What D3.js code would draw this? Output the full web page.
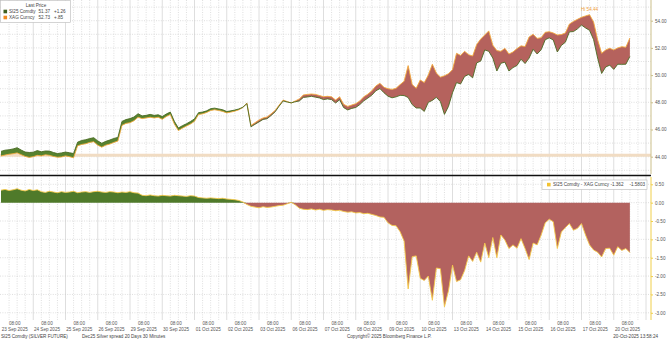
<!DOCTYPE html>
<html lang="en">
<head>
<meta charset="UTF-8">
<title>SI25 Comdty vs XAG Curncy</title>
<script src="https://d3js.org/d3.v7.min.js"></script>
<style>
    body { margin: 0; background: #fff; }
    svg text { font-family: "Liberation Sans", Arial, sans-serif; font-size: 4.6px; fill: #444; }
    .grid-dot { stroke: #c9c9c9; stroke-width: 0.6px; stroke-dasharray: 1, 1.4; }
    .grid-solid { stroke: #d6d6d6; stroke-width: 0.8px; }
    .axis-top path, .axis-top line { stroke: #cbbf8a; }
    .axis-bot path, .axis-bot line { stroke: #f0cf4a; }
    .xaxis path { display: none; }
</style>
</head>
<body>
<script>
// trading sessions shown on the x axis (label at 08:00 of each)
const sessions = ["23 Sep 2025", "24 Sep 2025", "25 Sep 2025", "26 Sep 2025", "29 Sep 2025",
    "30 Sep 2025", "01 Oct 2025", "02 Oct 2025", "03 Oct 2025", "06 Oct 2025",
    "07 Oct 2025", "08 Oct 2025", "09 Oct 2025", "10 Oct 2025", "13 Oct 2025",
    "14 Oct 2025", "15 Oct 2025", "16 Oct 2025", "17 Oct 2025", "20 Oct 2025"];

// one reading every 1/8 of a session
const step = 0.125;

// XAG Curncy (spot)
const xag = [
    44.05, 44.12, 44.18, 44.22, 44.28, 44.15, 44.02, 43.95, 44.00, 44.10,
    44.06, 44.14, 44.10, 44.02, 43.96, 43.98, 44.06, 44.00, 43.92, 44.80,
    44.90, 44.95, 45.05, 45.10, 44.85, 44.70, 44.85, 44.93, 45.05, 45.15,
    46.30, 46.45, 46.50, 46.65, 46.90, 46.80, 46.85, 46.90, 46.85, 46.90,
    46.75, 46.95, 47.10, 46.40, 45.92, 46.10, 46.25, 46.40, 46.60, 47.10,
    47.15, 47.25, 47.40, 47.45, 47.40, 47.33, 47.22, 47.28, 47.35, 47.45,
    47.62, 47.95, 46.30, 46.50, 46.70, 46.85, 46.92, 47.15, 47.40, 47.80,
    48.17, 48.05, 47.95, 48.10, 48.25, 48.54, 48.58, 48.61, 48.58, 48.50,
    48.41, 48.44, 48.40, 48.17, 48.40, 47.85, 47.70, 47.80, 47.90, 48.10,
    48.41, 48.60, 48.85, 49.20, 49.40, 49.10, 49.00, 48.95, 49.03, 49.30,
    49.55, 50.70, 49.30, 49.03, 49.64, 49.45, 50.00, 50.80, 50.15, 49.85,
    49.95, 50.10, 50.40, 51.60, 51.45, 51.75, 51.50, 51.40, 52.25, 52.65,
    52.95, 53.25, 52.20, 51.80, 51.75, 51.97, 51.55, 51.70, 51.95, 52.15,
    52.10, 52.80, 53.00, 52.70, 52.75, 53.15, 53.19, 53.10, 52.95, 52.98,
    53.10, 53.75, 53.95, 54.10, 54.25, 54.35, 54.44, 53.90, 52.60, 51.60,
    51.85, 51.97, 51.85, 52.00, 52.09, 52.05, 52.73
];

// SI25 Comdty - XAG Curncy
const spread = [
    0.34, 0.36, 0.33, 0.35, 0.38, 0.34, 0.32, 0.36, 0.33, 0.35,
    0.30, 0.28, 0.31, 0.29, 0.27, 0.30, 0.28, 0.29, 0.31, 0.27,
    0.29, 0.30, 0.28, 0.30, 0.31, 0.29, 0.28, 0.30, 0.29, 0.27,
    0.29, 0.28, 0.30, 0.27, 0.26, 0.20, 0.19, 0.21, 0.19, 0.18,
    0.20, 0.19, 0.18, 0.20, 0.19, 0.18, 0.17, 0.19, 0.18, 0.14,
    0.13, 0.12, 0.13, 0.12, 0.11, 0.12, 0.10, 0.09, 0.08, 0.06,
    0.02, -0.05, -0.10, -0.12, -0.14, -0.11, -0.13, -0.12, -0.10, -0.08,
    -0.07, -0.03, 0.01, -0.06, -0.15, -0.18, -0.19, -0.17, -0.20, -0.18,
    -0.21, -0.19, -0.20, -0.22, -0.21, -0.24, -0.26, -0.25, -0.28, -0.27,
    -0.30, -0.29, -0.32, -0.35, -0.39, -0.40, -0.55, -0.62, -0.63, -0.79,
    -1.05, -2.35, -1.47, -1.45, -2.06, -2.12, -2.00, -2.66, -1.78, -1.80,
    -2.84, -2.40, -1.70, -2.15, -2.10, -1.85, -1.45, -1.60, -1.35, -1.62,
    -1.10, -1.50, -0.95, -1.50, -0.88, -1.02, -1.25, -1.15, -1.24, -0.98,
    -1.25, -1.55, -1.10, -1.15, -0.88, -0.55, -0.45, -0.52, -1.25, -0.80,
    -0.68, -0.57, -0.75, -0.70, -0.57, -0.88, -1.15, -1.29, -1.35, -1.48,
    -1.25, -1.24, -1.43, -1.20, -1.30, -1.25, -1.36
];

const topTicks = [44, 46, 48, 50, 52, 54];
const botTicks = [0.5, 0, -0.5, -1, -1.5, -2, -2.5, -3];

const width = 667;
const height = 340;
const axisX = 651;

const data = xag.map((v, i) => ({ t: i * step, xag: v, spr: spread[i], si: v + spread[i] }));

const x = d3.scaleLinear().domain([0, sessions.length]).range([1, 646]);
const yTop = d3.scaleLinear().domain([44, 54]).range([156.7, 20.7]);
const yBot = d3.scaleLinear().domain([-3, 0.5]).range([312.8, 184.3]);

const svg = d3.select("body").append("svg")
    .attr("width", width)
    .attr("height", height);

// vertical grid: solid at session breaks, dotted in between
const grid = svg.append("g");
d3.range(1, sessions.length + 1).forEach(k => {
    grid.append("line").attr("class", "grid-solid")
        .attr("x1", x(k)).attr("x2", x(k)).attr("y1", 0).attr("y2", 320);
});
d3.range(0, sessions.length).forEach(k => {
    [0.25, 0.5, 0.75].forEach(f => {
        grid.append("line").attr("class", "grid-dot")
            .attr("x1", x(k + f)).attr("x2", x(k + f)).attr("y1", 0).attr("y2", 320);
    });
});
d3.range(43, 56).forEach(v => {
    grid.append("line").attr("class", "grid-dot")
        .attr("x1", 0).attr("x2", axisX).attr("y1", yTop(v)).attr("y2", yTop(v));
});
d3.range(-3, 0.75, 0.5).forEach(v => {
    grid.append("line").attr("class", "grid-dot")
        .attr("x1", 0).attr("x2", axisX).attr("y1", yBot(v)).attr("y2", yBot(v));
});

// reference line
svg.append("line")
    .attr("x1", 0).attr("x2", axisX)
    .attr("y1", yTop(44.1)).attr("y2", yTop(44.1))
    .attr("stroke", "#f1dcc3").attr("stroke-width", 3);

// top panel: fill between the two prices
svg.append("path").datum(data)
    .attr("fill", "#56822f")
    .attr("d", d3.area().x(d => x(d.t)).y0(d => yTop(d.xag)).y1(d => yTop(Math.max(d.si, d.xag))));
svg.append("path").datum(data)
    .attr("fill", "#b5625d")
    .attr("d", d3.area().x(d => x(d.t)).y0(d => yTop(d.si)).y1(d => yTop(Math.max(d.si, d.xag))));

svg.append("path").datum(data)
    .attr("fill", "none").attr("stroke", "#f3a93c").attr("stroke-width", 0.9)
    .attr("d", d3.line().x(d => x(d.t)).y(d => yTop(d.xag)));
svg.append("path").datum(data)
    .attr("fill", "none").attr("stroke", "#4a6b22").attr("stroke-width", 0.9)
    .attr("d", d3.line().x(d => x(d.t)).y(d => yTop(d.si)));

// high marker
const hi = data.reduce((a, b) => (b.xag > a.xag ? b : a));
svg.append("text")
    .attr("x", x(hi.t)).attr("y", yTop(hi.xag) - 4)
    .attr("text-anchor", "middle")
    .style("fill", "#f0a040")
    .text("Hi " + hi.xag.toFixed(2));

// bottom panel: spread
svg.append("path").datum(data)
    .attr("fill", "#4f7a2a")
    .attr("d", d3.area().x(d => x(d.t)).y0(yBot(0)).y1(d => yBot(Math.max(d.spr, 0))));
svg.append("path").datum(data)
    .attr("fill", "#b3625f")
    .attr("d", d3.area().x(d => x(d.t)).y0(yBot(0)).y1(d => yBot(Math.min(d.spr, 0))));
svg.append("path").datum(data)
    .attr("fill", "none").attr("stroke", "#f4c84a").attr("stroke-width", 0.9)
    .attr("d", d3.line().x(d => x(d.t)).y(d => yBot(d.spr)));

// panel separator
svg.append("line")
    .attr("x1", 0).attr("x2", axisX).attr("y1", 175.5).attr("y2", 175.5)
    .attr("stroke", "#111").attr("stroke-width", 1.4);

// right axes
const aTop = svg.append("g").attr("class", "axis-top")
    .attr("transform", `translate(${axisX},0)`)
    .call(d3.axisRight(yTop).tickValues(topTicks).tickSize(2).tickPadding(2)
        .tickFormat(d => d.toFixed(2)));
aTop.select(".domain").attr("d", "M0,0V174");
aTop.selectAll("text").style("fill", "#555").attr("font-size", null);

const aBot = svg.append("g").attr("class", "axis-bot")
    .attr("transform", `translate(${axisX},0)`)
    .call(d3.axisRight(yBot).tickValues(botTicks).tickSize(2).tickPadding(2)
        .tickFormat(d => d.toFixed(2)));
aBot.select(".domain").attr("d", "M0,177V320");
aBot.selectAll("text").style("fill", "#555").attr("font-size", null);

// x axis: two-line labels
const xa = svg.append("g").attr("class", "xaxis")
    .attr("transform", "translate(0,320)")
    .call(d3.axisBottom(x).tickValues(sessions.map((s, i) => i + 0.41))
        .tickSize(0).tickPadding(2).tickFormat(() => "08:00"));
xa.selectAll("text").attr("font-size", null).style("fill", "#555");
xa.selectAll(".tick text").append("tspan")
    .attr("x", 0).attr("dy", "1.35em")
    .text((d, i) => sessions[i]);

// top legend
const lg = svg.append("g");
lg.append("rect").attr("x", 0.5).attr("y", 0.5).attr("width", 70).attr("height", 22)
    .attr("fill", "#fff").attr("stroke", "#b8b8b8").attr("stroke-width", 0.6);
lg.append("text").attr("x", 36).attr("y", 6.5).attr("text-anchor", "middle").text("Last Price");
const legRows = [
    { name: "SI25 Comdty", last: "51.37", chg: "+1.26", color: "#3f5f1d" },
    { name: "XAG Curncy", last: "52.73", chg: "+.85", color: "#f08a1e" }
];
legRows.forEach((r, i) => {
    const yy = 13.3 + i * 6;
    lg.append("rect").attr("x", 3.5).attr("y", yy - 3.6).attr("width", 3.6).attr("height", 3.6).attr("fill", r.color);
    lg.append("text").attr("x", 9).attr("y", yy).text(r.name);
    lg.append("text").attr("x", 50).attr("y", yy).attr("text-anchor", "end").text(r.last);
    lg.append("text").attr("x", 54).attr("y", yy).text(r.chg);
});

// bottom legend
const lb = svg.append("g");
lb.append("rect").attr("x", 542).attr("y", 180).attr("width", 105).attr("height", 9.5)
    .attr("fill", "#fff").attr("stroke", "#b8b8b8").attr("stroke-width", 0.6);
lb.append("rect").attr("x", 547).attr("y", 182.8).attr("width", 3.6).attr("height", 3.6).attr("fill", "#f2c230");
lb.append("text").attr("x", 553).attr("y", 186.4).text("SI25 Comdty - XAG Curncy  -1.362");
lb.append("text").attr("x", 645).attr("y", 186.4).attr("text-anchor", "end").text("-1.5803");

// footer
const foot = svg.append("g").attr("transform", "translate(0,338)");
foot.append("text").attr("x", 1).text("SI25 Comdty (SILVER FUTURE)");
foot.append("text").attr("x", 82).text("Dec25 Silver spread 20 Days 30 Minutes");
foot.append("text").attr("x", 347).text("Copyright\u00A9 2025 Bloomberg Finance L.P.");
foot.append("text").attr("x", 658).attr("text-anchor", "end").text("20-Oct-2025 13:58:24");
</script>
</body>
</html>
